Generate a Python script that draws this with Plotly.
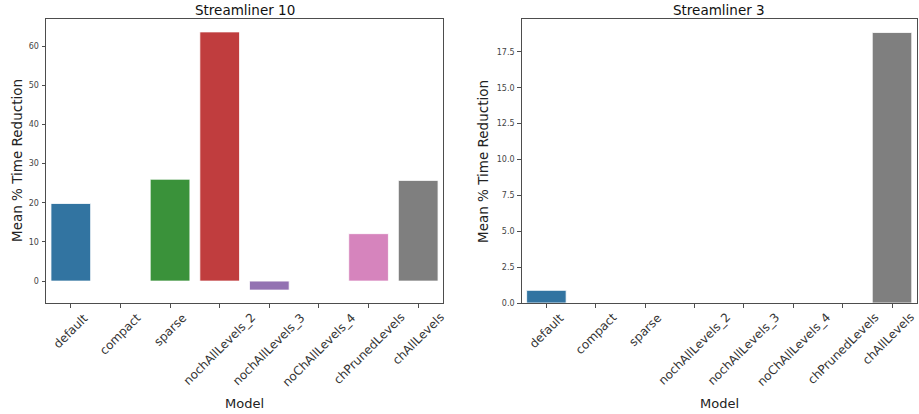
import plotly.graph_objects as go

models = ["default", "compact", "sparse", "nochAllLevels_2", "nochAllLevels_3",
          "noChAllLevels_4", "chPrunedLevels", "chAllLevels"]
s10_values = [19.8, 0.0, 26.0, 63.6, -2.3, 0.0, 12.1, 25.7]
s3_values = [0.88, 0.0, 0.0, 0.0, 0.0, 0.0, 0.0, 18.85]
titles = ["Streamliner 10", "Streamliner 3"]
colors = ["#3274a1", "#e1812c", "#3a923a", "#c03d3e", "#9372b2", "#845b53", "#d684bd", "#7f7f7f"]

W, H = 919, 414
FONT = "DejaVu Sans"

def px_x(p):
    return p / W

def px_y(p):
    return 1 - p / H

fig = go.Figure()

def mpl_range(vals, sticky_zero=True):
    lo = min(0, min(vals))
    hi = max(0, max(vals))
    span = hi - lo
    r0 = lo - 0.05 * span
    r1 = hi + 0.05 * span
    if lo == 0 and sticky_zero:
        r0 = 0
    return [r0, r1]

panels = [
    dict(vals=s10_values, xd=[46, 443], xa="x", ya="y", tickvals=[0, 10, 20, 30, 40, 50, 60], fmt="d",
         ytitle_x=17),
    dict(vals=s3_values, xd=[521.7, 916.7], xa="x2", ya="y2", tickvals=[0, 2.5, 5, 7.5, 10, 12.5, 15, 17.5], fmt=".1f",
         ytitle_x=483),
]

ydom = [px_y(303), px_y(19)]

for i, p in enumerate(panels):
    fig.add_trace(go.Bar(
        x=models, y=p["vals"], xaxis=p["xa"], yaxis=p["ya"],
        marker=dict(color=colors, line=dict(color="rgba(255,255,255,0.8)", width=1)),
        width=0.8, showlegend=False,
    ))
    suffix = "" if i == 0 else "2"
    ax_common = dict(showline=True, mirror=True, linecolor="#4d4d4d", linewidth=1,
                     ticks="outside", ticklen=3.5, tickcolor="#4d4d4d", tickwidth=1,
                     showgrid=False, zeroline=False, automargin=False,
                     tickfont=dict(family=FONT, size=8, color="#444444"))
    fig.layout["xaxis" + suffix] = dict(
        ax_common, domain=[px_x(p["xd"][0]), px_x(p["xd"][1])], range=[-0.5, 7.5],
        type="category", showticklabels=False, anchor="y" + suffix,
    )
    fig.layout["yaxis" + suffix] = dict(
        ax_common, domain=ydom, range=mpl_range(p["vals"]), tickvals=p["tickvals"],
        tickformat=p["fmt"], anchor="x" + suffix, ticklabelstandoff=1,
    )
    xc = (p["xd"][0] + p["xd"][1]) / 2
    # subplot title
    fig.add_annotation(text=titles[i], x=px_x(xc), y=px_y(10), xref="paper", yref="paper",
                       showarrow=False, xanchor="center", yanchor="middle",
                       font=dict(family=FONT, size=13.5, color="#111111"))
    # axis titles
    fig.add_annotation(text="Model", x=px_x(xc), y=px_y(403), xref="paper", yref="paper",
                       showarrow=False, xanchor="center", yanchor="middle",
                       font=dict(family=FONT, size=13, color="#222222"))
    fig.add_annotation(text="Mean % Time Reduction", x=px_x(p["ytitle_x"]), y=px_y(161),
                       xref="paper", yref="paper", showarrow=False, textangle=-90,
                       xanchor="center", yanchor="middle",
                       font=dict(family=FONT, size=13.5, color="#222222"))
    # rotated category labels centred on ticks (matplotlib style)
    for j, m in enumerate(models):
        shift = -4 if (i == 1 and j == len(models) - 1) else 0
        fig.add_annotation(text=m, x=m, y=px_y(309), xref=p["xa"], yref="paper",
                           showarrow=False, textangle=-45, xanchor="center", yanchor="top",
                           borderpad=0, xshift=shift,
                           font=dict(family=FONT, size=12, color="#333333"))

fig.update_layout(
    width=W, height=H, margin=dict(l=0, r=0, t=0, b=0),
    paper_bgcolor="white", plot_bgcolor="white",
    font=dict(family=FONT), bargap=0.2,
)

fig.write_html("out.html", config={"displayModeBar": False},
               post_script="document.body.style.margin='0px';")
